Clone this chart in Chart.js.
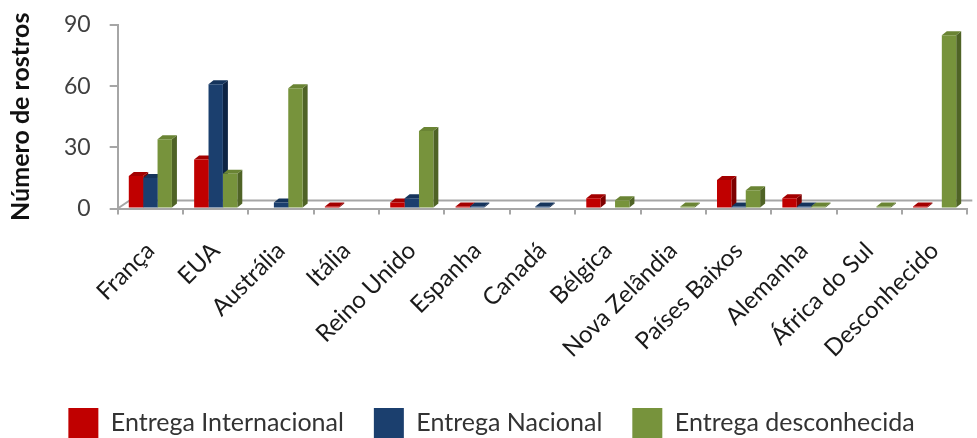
<!DOCTYPE html>
<html>
<head>
<meta charset="utf-8">
<script src="https://cdn.jsdelivr.net/npm/chart.js@4.4.1/dist/chart.umd.min.js"></script>
<style>
  html, body { margin: 0; padding: 0; background: #ffffff; }
  #wrap { width: 977px; height: 438px; position: relative; }
</style>
</head>
<body>
<div id="wrap"><canvas id="chart"></canvas></div>
<script>
// Countries (x categories)
const categories = ['França', 'EUA', 'Austrália', 'Itália', 'Reino Unido', 'Espanha', 'Canadá',
  'Bélgica', 'Nova Zelândia', 'Países Baixos', 'Alemanha', 'África do Sul', 'Desconhecido'];

// Number of faces per delivery type (null = no bar)
const entregaInternacional = [16, 24, null, 1, 3, 1, null, 5, null, 14, 5, null, 1];
const entregaNacional      = [15, 61, 3, null, 5, 1, 1, null, null, 1, 1, null, null];
const entregaDesconhecida  = [34, 17, 59, null, 38, null, null, 4, 1, 9, 1, 1, 85];

// Value axis ticks
const yTicks = [0, 30, 60, 90];

const FONT = 'Lato, "Open Sans", sans-serif';

// Depth of each column's top/side faces, and of the floor
const DEPTH_X = 5, DEPTH_Y = 4;
const FLOOR_X = 12, FLOOR_Y = 8;

// Draws the floor and the top/side faces of every column before the
// front faces are painted by the bar controller.
const columns3d = {
  id: 'columns3d',
  beforeDatasetsDraw(chart) {
    const { ctx, chartArea, scales } = chart;
    const y0 = scales.y.getPixelForValue(0);
    ctx.save();
    ctx.strokeStyle = '#a6a6a6';
    ctx.lineWidth = 2;
    ctx.beginPath();
    ctx.moveTo(chartArea.left, y0);
    ctx.lineTo(chartArea.left + FLOOR_X, y0 - FLOOR_Y);
    ctx.lineTo(chartArea.right + 5, y0 - FLOOR_Y);
    ctx.stroke();

    chart.data.datasets.forEach((ds, i) => {
      const meta = chart.getDatasetMeta(i);
      meta.data.forEach((bar, j) => {
        if (ds.data[j] == null) return;
        const p = bar.getProps(['x', 'y', 'base', 'width'], true);
        const l = p.x - p.width / 2, r = p.x + p.width / 2;
        const top = p.y, base = p.base;
        // right side face
        ctx.fillStyle = ds.sideColor;
        ctx.beginPath();
        ctx.moveTo(r, top);
        ctx.lineTo(r + DEPTH_X, top - DEPTH_Y);
        ctx.lineTo(r + DEPTH_X, base - DEPTH_Y);
        ctx.lineTo(r, base);
        ctx.closePath();
        ctx.fill();
        // top face
        ctx.fillStyle = ds.topColor;
        ctx.beginPath();
        ctx.moveTo(l, top);
        ctx.lineTo(l + DEPTH_X, top - DEPTH_Y);
        ctx.lineTo(r + DEPTH_X, top - DEPTH_Y);
        ctx.lineTo(r, top);
        ctx.closePath();
        ctx.fill();
      });
    });
    ctx.restore();
  }
};

new Chart(document.getElementById('chart'), {
  type: 'bar',
  data: {
    labels: categories,
    datasets: [
      { label: 'Entrega Internacional', data: entregaInternacional,
        backgroundColor: '#c00000', topColor: '#a30000', sideColor: '#7d0000' },
      { label: 'Entrega Nacional', data: entregaNacional,
        backgroundColor: '#1b3f6e', topColor: '#15345c', sideColor: '#0e2444' },
      { label: 'Entrega desconhecida', data: entregaDesconhecida,
        backgroundColor: '#77933c', topColor: '#6a8434', sideColor: '#4f6326' }
    ]
  },
  options: {
    responsive: true,
    maintainAspectRatio: false,
    animation: false,
    layout: { padding: { top: 25, right: 0, left: 6, bottom: -10 } },
    datasets: { bar: { categoryPercentage: 0.66, barPercentage: 1.0 } },
    scales: {
      x: {
        grid: { drawOnChartArea: false, color: '#a6a6a6', lineWidth: 2, tickLength: 6, offset: true },
        border: { color: '#a6a6a6', width: 2 },
        ticks: { color: '#1a1a1a', font: { family: FONT, size: 24 }, maxRotation: 45, minRotation: 45, padding: 22, autoSkip: false },
        afterFit(axis) { axis.height -= 7; }
      },
      y: {
        min: 0, max: 90,
        afterBuildTicks(axis) { axis.ticks = yTicks.map(v => ({ value: v })); },
        afterFit(axis) { axis.paddingTop = 0; },
        grid: { drawOnChartArea: false, color: '#a6a6a6', lineWidth: 2, tickLength: 8 },
        border: { color: '#a6a6a6', width: 2 },
        ticks: { color: '#404040', font: { family: FONT, size: 23 }, padding: 19 },
        title: { display: true, text: 'Número de rostros', color: '#111111',
          font: { family: FONT, size: 25, weight: 'bold' }, padding: { top: 0, bottom: 9 } }
      }
    },
    plugins: {
      legend: {
        position: 'bottom',
        labels: { color: '#333333', font: { family: FONT, size: 25 }, boxWidth: 30, boxHeight: 30, padding: 30 }
      },
      tooltip: { enabled: false }
    }
  },
  plugins: [columns3d]
});
</script>
</body>
</html>
